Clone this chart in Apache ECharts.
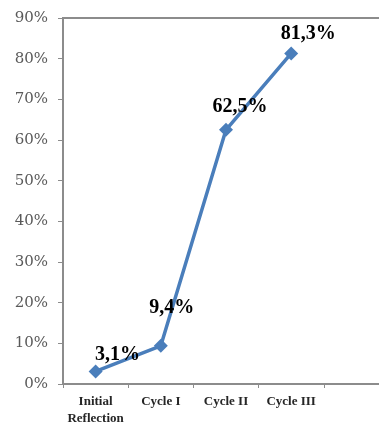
<!DOCTYPE html>
<html>
<head>
<meta charset="utf-8">
<script src="https://cdn.jsdelivr.net/npm/echarts@6/dist/echarts.min.js"></script>
<style>
  html, body { margin: 0; padding: 0; background: #fff; }
  #chart { width: 379px; height: 425px; }
</style>
</head>
<body>
<div id="chart"></div>
<script>
// categories (last slot is empty in the original)
var categories = ["Initial\nReflection", "Cycle I", "Cycle II", "Cycle III", ""];
var values = [3.1, 9.4, 62.5, 81.3];
var valueLabels = ["3,1%", "9,4%", "62,5%", "81,3%"];
// label nudges relative to each point
var labelOffsets = [[22, -17], [11, -38], [14, -23], [17, -20]];

var myChart = echarts.init(document.getElementById("chart"));

var seriesData = values.map(function (v, i) {
  return {
    value: v,
    label: {
      formatter: valueLabels[i],
      offset: labelOffsets[i],
    },
  };
});

var option = {
  backgroundColor: "#fff",
  animation: false,
  grid: {
    left: 63,
    top: 18,
    width: 326,
    bottom: 41,
    outerBoundsMode: "none",
    containLabel: false,
    show: true,
    borderColor: "#8c8c8c",
    borderWidth: 2,
  },
  xAxis: {
    type: "category",
    data: categories,
    boundaryGap: true,
    axisLine: { lineStyle: { color: "#8c8c8c", width: 2 } },
    axisTick: { show: true, length: 4, lineStyle: { color: "#8c8c8c" } },
    axisLabel: {
      interval: 0,
      margin: 9,
      fontFamily: "Liberation Serif",
      fontWeight: "bold",
      fontSize: 13,
      color: "#262626",
      lineHeight: 17,
    },
  },
  yAxis: {
    type: "value",
    min: 0,
    max: 90,
    interval: 10,
    axisLine: { show: true, lineStyle: { color: "#8c8c8c", width: 2 } },
    axisTick: { show: true, length: 5, lineStyle: { color: "#8c8c8c" } },
    splitLine: { show: false },
    axisLabel: {
      margin: 15,
      fontFamily: "DejaVu Serif",
      fontSize: 15,
      color: "#595959",
      formatter: "{value}%",
    },
  },
  series: [
    {
      type: "line",
      data: seriesData,
      symbol: "diamond",
      symbolSize: 14,
      lineStyle: { color: "#4a7ebb", width: 3.5 },
      itemStyle: { color: "#4a7ebb" },
      label: {
        show: true,
        position: "inside",
        fontFamily: "Liberation Serif",
        fontWeight: "bold",
        fontSize: 20,
        color: "#000",
      },
    },
  ],
};

myChart.setOption(option);
</script>
</body>
</html>
